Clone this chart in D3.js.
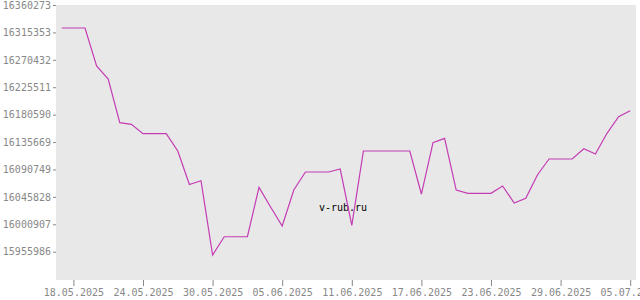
<!DOCTYPE html>
<html>
<head>
<meta charset="utf-8">
<script src="https://cdn.jsdelivr.net/npm/d3@7"></script>
<style>
  body { margin: 0; background: #fff; }
  svg { display: block; }
</style>
</head>
<body>
<svg id="chart" width="640" height="300"></svg>
<script>
// daily rate, 17.05.2025 .. 05.07.2025
const startDate = "17.05.2025";
const values = [
    16322576, 16322576, 16322576, 16260294, 16238987, 16167363, 16164740, 16149334,
    16149334, 16149334, 16120979, 16066073, 16072301, 15950523, 15980517, 15980517,
    15980517, 16061483, 16029195, 15998054, 16057058, 16086560, 16086560, 16086560,
    16091477, 15999201, 16120979, 16120979, 16120979, 16120979, 16120979, 16050502,
    16134583, 16141794, 16057058, 16051649, 16051649, 16051649, 16063614, 16035751,
    16043454, 16081643, 16107867, 16107867, 16107867, 16124749, 16116062, 16149989,
    16177197, 16187031
];
const yTicks = [16360273, 16315353, 16270432, 16225511, 16180590, 16135669,
    16090749, 16045828, 16000907, 15955986];
const xTicks = ["18.05.2025", "24.05.2025", "30.05.2025", "05.06.2025", "11.06.2025",
    "17.06.2025", "23.06.2025", "29.06.2025", "05.07.2025"];

const parse = d3.timeParse("%d.%m.%Y");
const fmt = d3.timeFormat("%d.%m.%Y");
const t0 = parse(startDate);
const data = values.map((v, i) => ({ date: d3.timeDay.offset(t0, i), value: v }));

const m = { left: 56, right: 636, top: 5, bottom: 280 };
const svg = d3.select("#chart");
const font = "'DejaVu Sans Mono', monospace";

const x = d3.scaleTime()
    .domain([d3.timeHour.offset(t0, -12), d3.timeHour.offset(data[data.length - 1].date, 12)])
    .range([m.left, m.right]);
const y = d3.scaleLinear()
    .domain([15909600, 16360273])
    .range([m.bottom, m.top]);

// plot background
svg.append("rect")
    .attr("x", m.left).attr("y", m.top)
    .attr("width", m.right - m.left).attr("height", m.bottom - m.top)
    .attr("fill", "#e8e8e8");

// y axis
const gy = svg.append("g")
    .attr("transform", `translate(${m.left},0)`)
    .call(d3.axisLeft(y).tickValues(yTicks).tickSize(3).tickPadding(2).tickFormat(d3.format("d")));
gy.select(".domain").remove();
gy.selectAll("line").attr("stroke", "#888");
gy.selectAll("text").attr("fill", "#888").style("font-family", font).style("font-size", "10px");

// x axis
const gx = svg.append("g")
    .attr("transform", `translate(0,${m.bottom})`)
    .call(d3.axisBottom(x).tickValues(xTicks.map(parse)).tickSize(6).tickPadding(3).tickFormat(fmt));
gx.select(".domain").remove();
gx.selectAll("line").attr("stroke", "#888");
gx.selectAll("text").attr("fill", "#888").style("font-family", font).style("font-size", "10px");

// watermark
svg.append("text")
    .attr("x", 343).attr("y", 211)
    .attr("text-anchor", "middle")
    .style("font-family", font).style("font-size", "10px")
    .attr("fill", "#000")
    .text("v-rub.ru");

// the line
svg.append("path")
    .datum(data)
    .attr("fill", "none")
    .attr("stroke", "#c43cb4")
    .attr("stroke-width", 1.2)
    .attr("d", d3.line()
        .x(d => x(d.date))
        .y(d => y(d.value)));
</script>
</body>
</html>
